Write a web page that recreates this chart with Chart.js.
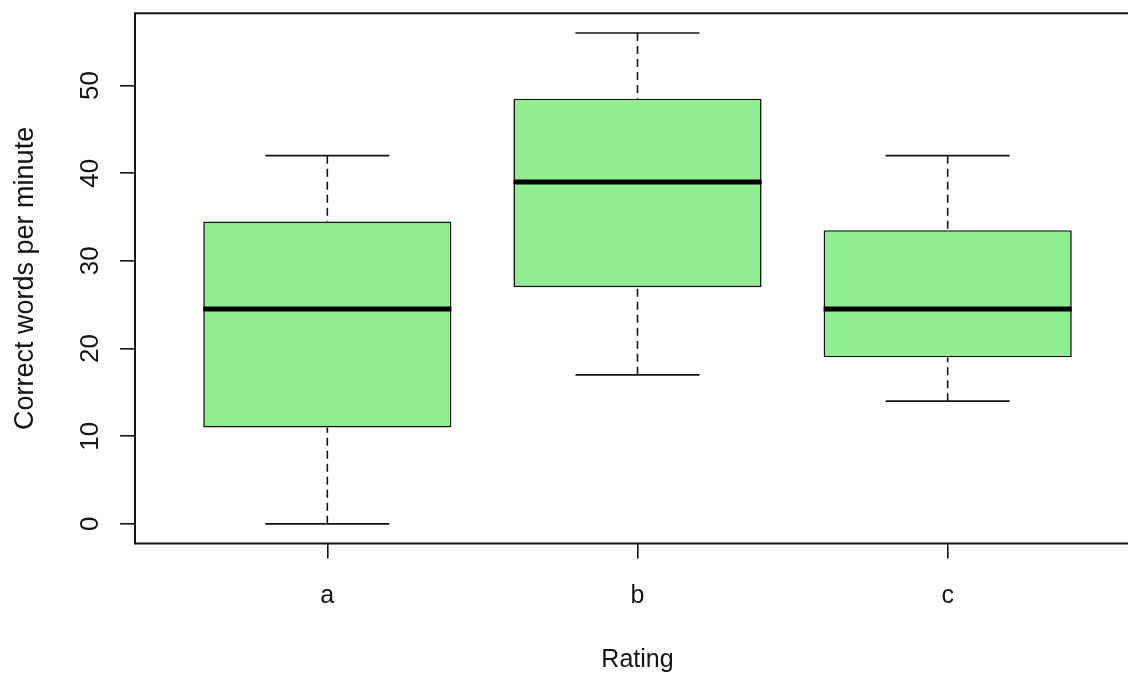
<!DOCTYPE html>
<html>
<head>
<meta charset="utf-8">
<title>Correct words per minute by rating</title>
<script src="https://cdn.jsdelivr.net/npm/chart.js@4.4.0/dist/chart.umd.min.js"></script>
<style>
  html, body { margin: 0; padding: 0; background: #ffffff; overflow: hidden; }
  #wrap { width: 1150px; height: 675px; }
</style>
</head>
<body>
<div id="wrap"><canvas id="c" width="1150" height="675"></canvas></div>
<script>
// Five-number summaries for each rating group
const RATINGS      = ['a', 'b', 'c'];
const WHISKER_LOW  = [0, 17, 14];
const Q1           = [11, 27, 19];
const MEDIAN       = [24.5, 39, 24.5];
const Q3           = [34.5, 48.5, 33.5];
const WHISKER_HIGH = [42, 56, 42];
const Y_TICKS      = [0, 10, 20, 30, 40, 50];

const X_TITLE = 'Rating';
const Y_TITLE = 'Correct words per minute';

const INK  = '#141414';
const FILL = '#90EE90';
const FONT = '"Liberation Sans", Arial, sans-serif';

// Axis ranges padded by 4% on each side, like a base-graphics plot
const dataMin = Math.min(...WHISKER_LOW);
const dataMax = Math.max(...WHISKER_HIGH);
const yPad = (dataMax - dataMin) * 0.04;
const X_POS = RATINGS.map((_, i) => i + 1);
const xPad = RATINGS.length * 0.04;

const BOX_HALF = 0.4;   // half of box width, in x units
const CAP_HALF = 0.2;   // half of whisker cap width

const boxParts = {
  id: 'boxParts',
  afterDatasetsDraw(chart) {
    const { ctx, scales: { x, y } } = chart;
    ctx.save();
    ctx.strokeStyle = INK;
    X_POS.forEach((p, i) => {
      const cx = x.getPixelForValue(p);
      const cap = x.getPixelForValue(p + CAP_HALF) - cx;
      const half = x.getPixelForValue(p + BOX_HALF) - cx;

      // dashed whiskers, from the extremes in toward the box
      ctx.lineWidth = 1.6;
      ctx.setLineDash([8, 5]);
      ctx.beginPath();
      ctx.moveTo(cx, y.getPixelForValue(WHISKER_HIGH[i]));
      ctx.lineTo(cx, y.getPixelForValue(Q3[i]));
      ctx.moveTo(cx, y.getPixelForValue(WHISKER_LOW[i]));
      ctx.lineTo(cx, y.getPixelForValue(Q1[i]));
      ctx.stroke();
      ctx.setLineDash([]);

      // whisker caps
      ctx.beginPath();
      [WHISKER_HIGH[i], WHISKER_LOW[i]].forEach(v => {
        const py = y.getPixelForValue(v);
        ctx.moveTo(cx - cap, py);
        ctx.lineTo(cx + cap, py);
      });
      ctx.stroke();

      // median bar
      const my = y.getPixelForValue(MEDIAN[i]);
      ctx.strokeStyle = '#000000';
      ctx.lineWidth = 5;
      ctx.lineCap = 'butt';
      ctx.beginPath();
      ctx.moveTo(cx - half, my);
      ctx.lineTo(cx + half, my);
      ctx.stroke();
      ctx.strokeStyle = INK;
    });
    ctx.restore();
  },
  afterDraw(chart) {
    const { ctx, chartArea: a, scales: { x, y } } = chart;
    ctx.save();
    // plot frame
    ctx.strokeStyle = INK;
    ctx.lineWidth = 2;
    ctx.strokeRect(a.left, a.top, a.right - a.left, a.bottom - a.top);

    ctx.fillStyle = INK;
    // y tick labels, drawn parallel to the axis
    ctx.font = '26px ' + FONT;
    ctx.textAlign = 'center';
    ctx.textBaseline = 'alphabetic';
    Y_TICKS.forEach(v => {
      ctx.save();
      ctx.translate(a.left - 37, y.getPixelForValue(v));
      ctx.rotate(-Math.PI / 2);
      ctx.fillText(String(v), 0, 0);
      ctx.restore();
    });

    // y axis title
    ctx.save();
    ctx.font = '27px ' + FONT;
    ctx.translate(33, (a.top + a.bottom) / 2);
    ctx.rotate(-Math.PI / 2);
    ctx.fillText(Y_TITLE, 0, 0);
    ctx.restore();

    // x tick labels
    ctx.font = '25px ' + FONT;
    X_POS.forEach((p, i) => {
      ctx.fillText(RATINGS[i], x.getPixelForValue(p), a.bottom + 59);
    });

    // x axis title
    ctx.fillText(X_TITLE, (a.left + a.right) / 2, a.bottom + 123.5);
    ctx.restore();
  }
};

new Chart(document.getElementById('c'), {
  type: 'bar',
  data: {
    datasets: [{
      label: 'IQR',
      data: X_POS.map((p, i) => ({ x: p, y: [Q1[i], Q3[i]] })),
      backgroundColor: FILL,
      borderColor: INK,
      borderWidth: 1.6,
      borderSkipped: false,
      categoryPercentage: 2 * BOX_HALF,
      barPercentage: 1.0
    }]
  },
  options: {
    responsive: false,
    animation: false,
    layout: { padding: { top: 13.3, right: 10, left: 0, bottom: 0 } },
    plugins: { legend: { display: false }, tooltip: { enabled: false }, title: { display: false } },
    scales: {
      x: {
        type: 'linear',
        min: 1 - 0.5 - xPad,
        max: RATINGS.length + 0.5 + xPad,
        offset: false,
        afterBuildTicks: s => { s.ticks = X_POS.map(v => ({ value: v })); },
        afterFit: s => { s.height = 131.5; },
        ticks: { display: false },
        border: { display: false },
        grid: { display: true, offset: false, drawOnChartArea: false, drawTicks: true, tickLength: 15, color: INK, lineWidth: 1.6 }
      },
      y: {
        type: 'linear',
        min: dataMin - yPad,
        max: dataMax + yPad,
        afterBuildTicks: s => { s.ticks = Y_TICKS.map(v => ({ value: v })); },
        afterFit: s => { s.width = 135; },
        ticks: { display: false },
        border: { display: false },
        grid: { display: true, drawOnChartArea: false, drawTicks: true, tickLength: 15, color: INK, lineWidth: 1.6 }
      }
    }
  },
  plugins: [boxParts]
});
</script>
</body>
</html>
